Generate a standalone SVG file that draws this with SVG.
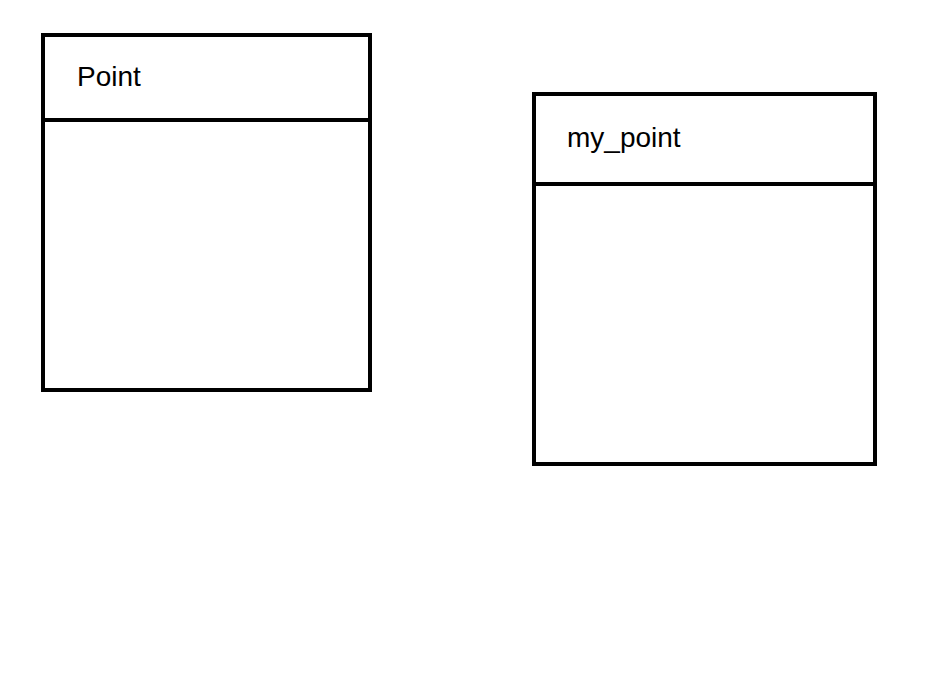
<svg xmlns="http://www.w3.org/2000/svg" width="951" height="700" viewBox="0 0 951 700">
<style>
.box{fill:none;stroke:#000;stroke-width:4}
.div{stroke:#000;stroke-width:4}
.lbl{font-family:"Liberation Sans",Arial,sans-serif;font-size:28px;fill:#000}
</style>
<rect width="951" height="700" fill="#fff"/>
<g id="node-point">
<rect class="box" x="43" y="35" width="327" height="355"/>
<line class="div" x1="41" y1="120" x2="372" y2="120"/>
<text class="lbl" x="77" y="86">Point</text>
</g>
<g id="node-my_point">
<rect class="box" x="534" y="94" width="341" height="370"/>
<line class="div" x1="534" y1="184" x2="875" y2="184"/>
<text class="lbl" x="567" y="147">my_point</text>
</g>
<g id="connectors"></g>
</svg>
